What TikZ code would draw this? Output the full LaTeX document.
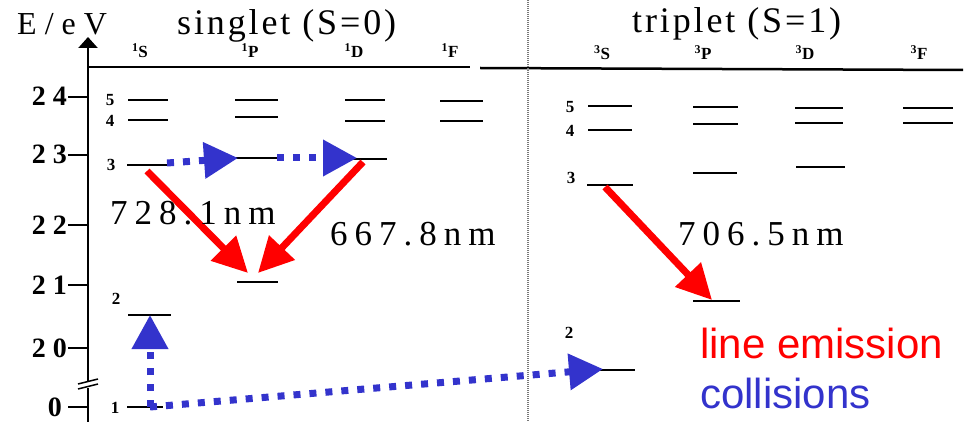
\documentclass[tikz,border=0pt]{standalone}
\usepackage{fontspec}
\setmainfont{Liberation Serif}
\newfontfamily\legendfont{Liberation Sans}
\newfontfamily\spacedfont[LetterSpace=8]{Liberation Serif}
\newfontfamily\widefont[LetterSpace=20]{Liberation Serif}
\newfontfamily\axisfont[LetterSpace=25]{Liberation Serif}
\usetikzlibrary{arrows.meta}
\definecolor{emissionred}{RGB}{255, 0, 0}
\definecolor{collisionblue}{RGB}{51, 51, 204}
\definecolor{separatorgray}{RGB}{120, 120, 120}

\begin{document}
\begin{tikzpicture}[x=1pt, y=-1pt,
    level/.style={line width=2pt},
    emission/.style={emissionred, line width=7pt, -{Triangle[length=35pt, width=34pt]}},
    collision/.style={collisionblue, line width=7pt, dash pattern=on 7pt off 9pt, -{Triangle[length=34pt, width=35pt]}},
    ticklabel/.style={anchor=base east, inner sep=0pt, font=\fontsize{28}{28}\selectfont\bfseries},
    termlabel/.style={anchor=base, inner sep=0pt, font=\fontsize{17}{17}\selectfont\bfseries},
    nlabel/.style={anchor=center, inner sep=0pt, font=\fontsize{17}{17}\selectfont\bfseries},
    header/.style={anchor=base west, inner sep=0pt, font=\fontsize{36}{36}\spacedfont},
    wavelength/.style={anchor=base west, inner sep=0pt, font=\fontsize{35}{35}\widefont},
    legend/.style={anchor=base west, inner sep=0pt, font=\fontsize{42}{42}\legendfont}]
    \useasboundingbox (0,0) rectangle (969,422);

    % energy axis
    \draw[line width=2.5pt, -{Triangle[length=11pt, width=19pt]}] (88,381) -- (88,37);
    \draw[line width=2.5pt] (88,388) -- (88,422);
    \draw[line width=1.5pt] (78,384) -- (98,379) (78,389) -- (98,384);
    \draw[line width=2pt] (68,97) -- (88,97) (68,155) -- (88,155) (68,225) -- (88,225)
        (68,285) -- (88,285) (68,348) -- (88,348) (68,407) -- (88,407);
    \node[ticklabel] (t24) at (67,106) {2\hspace{7pt}4};
    \node[ticklabel] (t23) at (67,164) {2\hspace{7pt}3};
    \node[ticklabel] (t22) at (67,234) {2\hspace{7pt}2};
    \node[ticklabel] (t21) at (67,294) {2\hspace{7pt}1};
    \node[ticklabel] (t20) at (67,357) {2\hspace{7pt}0};
    \node[ticklabel] (t0) at (62,416) {0};
    \node[anchor=base west, inner sep=0pt, font=\fontsize{32}{32}\axisfont] (axislabel) at (17,35) {E/eV};

    % headers
    \node[header] (singlet) at (177,35) {singlet (S=0)};
    \node[header] (triplet) at (632,33) {triplet (S=1)};
    \draw[line width=2.5pt] (88,67) -- (470,67);
    \draw[line width=2.5pt] (480,68) -- (963,70);
    \draw[separatorgray, line width=1.5pt, dash pattern=on 1pt off 1pt] (528,0) -- (528,422);
    \node[termlabel] (s1S) at (140,58) {\textsuperscript{1}S};
    \node[termlabel] (s1P) at (250,58) {\textsuperscript{1}P};
    \node[termlabel] (s1D) at (354,58) {\textsuperscript{1}D};
    \node[termlabel] (s1F) at (450,58) {\textsuperscript{1}F};
    \node[termlabel] (t3S) at (602,60) {\textsuperscript{3}S};
    \node[termlabel] (t3P) at (703,60) {\textsuperscript{3}P};
    \node[termlabel] (t3D) at (805,60) {\textsuperscript{3}D};
    \node[termlabel] (t3F) at (919,60) {\textsuperscript{3}F};

    % singlet levels
    \draw[level] (128,100) -- (168,100) (128,120) -- (168,120) (127,165) -- (167,165)
        (128,315) -- (171,315) (127,407) -- (163,407);
    \draw[level] (235,100) -- (278,100) (235,117) -- (278,117) (235,158) -- (277,158) (237,282) -- (278,282);
    \draw[level] (345,100) -- (385,100) (345,121) -- (385,121) (345,159) -- (387,159);
    \draw[level] (440,101) -- (483,101) (440,121) -- (483,121);
    \node[nlabel] (sn5) at (110,100) {5};
    \node[nlabel] (sn4) at (110,121) {4};
    \node[nlabel] (sn3) at (111,165) {3};
    \node[nlabel] (sn2) at (116,299) {2};
    \node[nlabel] (sn1) at (115,408) {1};

    % triplet levels
    \draw[level] (588,106) -- (632,106) (588,130) -- (632,130) (587,185) -- (633,185) (590,370) -- (635,370);
    \draw[level] (693,107) -- (738,107) (693,124) -- (738,124) (693,173) -- (737,173) (693,301) -- (740,301);
    \draw[level] (795,108) -- (843,108) (795,123) -- (843,123) (796,167) -- (845,167);
    \draw[level] (903,108) -- (953,108) (903,123) -- (953,123);
    \node[nlabel] (tn5) at (570,107) {5};
    \node[nlabel] (tn4) at (570,131) {4};
    \node[nlabel] (tn3) at (571,178) {3};
    \node[nlabel] (tn2) at (569,333) {2};

    % transition end points
    \coordinate (sS3e) at (147,171);
    \coordinate (sP2a) at (248,273);
    \coordinate (sD3e) at (363,162);
    \coordinate (sP2b) at (258,273);
    \coordinate (tS3e) at (605,187);
    \coordinate (tP2) at (712,300);
    \coordinate (sS3c) at (167,163);
    \coordinate (sP3) at (238,158);
    \coordinate (sP3c) at (277,158);
    \coordinate (sD3) at (357,158);
    \coordinate (sS1) at (150,407);
    \coordinate (sS2) at (150,315);
    \coordinate (tS2) at (603,369);

    % line emission
    \draw[emission] (sS3e) -- (sP2a);
    \draw[emission] (sD3e) -- (sP2b);
    \draw[emission] (tS3e) -- (tP2);

    % collisions
    \draw[collision] (sS3c) -- (sP3);
    \draw[collision] (sP3c) -- (sD3);
    \draw[collision] (sS1) -- (sS2);
    \draw[collision] (sS1) -- (tS2);

    \node[wavelength] (w7281) at (110,225) {728.1nm};
    \node[wavelength] (w6678) at (330,245) {667.8nm};
    \node[wavelength] (w7065) at (678,245) {706.5nm};

    \node[legend, emissionred] (emlabel) at (700,358) {line emission};
    \node[legend, collisionblue] (collabel) at (700,408) {collisions};
\end{tikzpicture}
\end{document}
